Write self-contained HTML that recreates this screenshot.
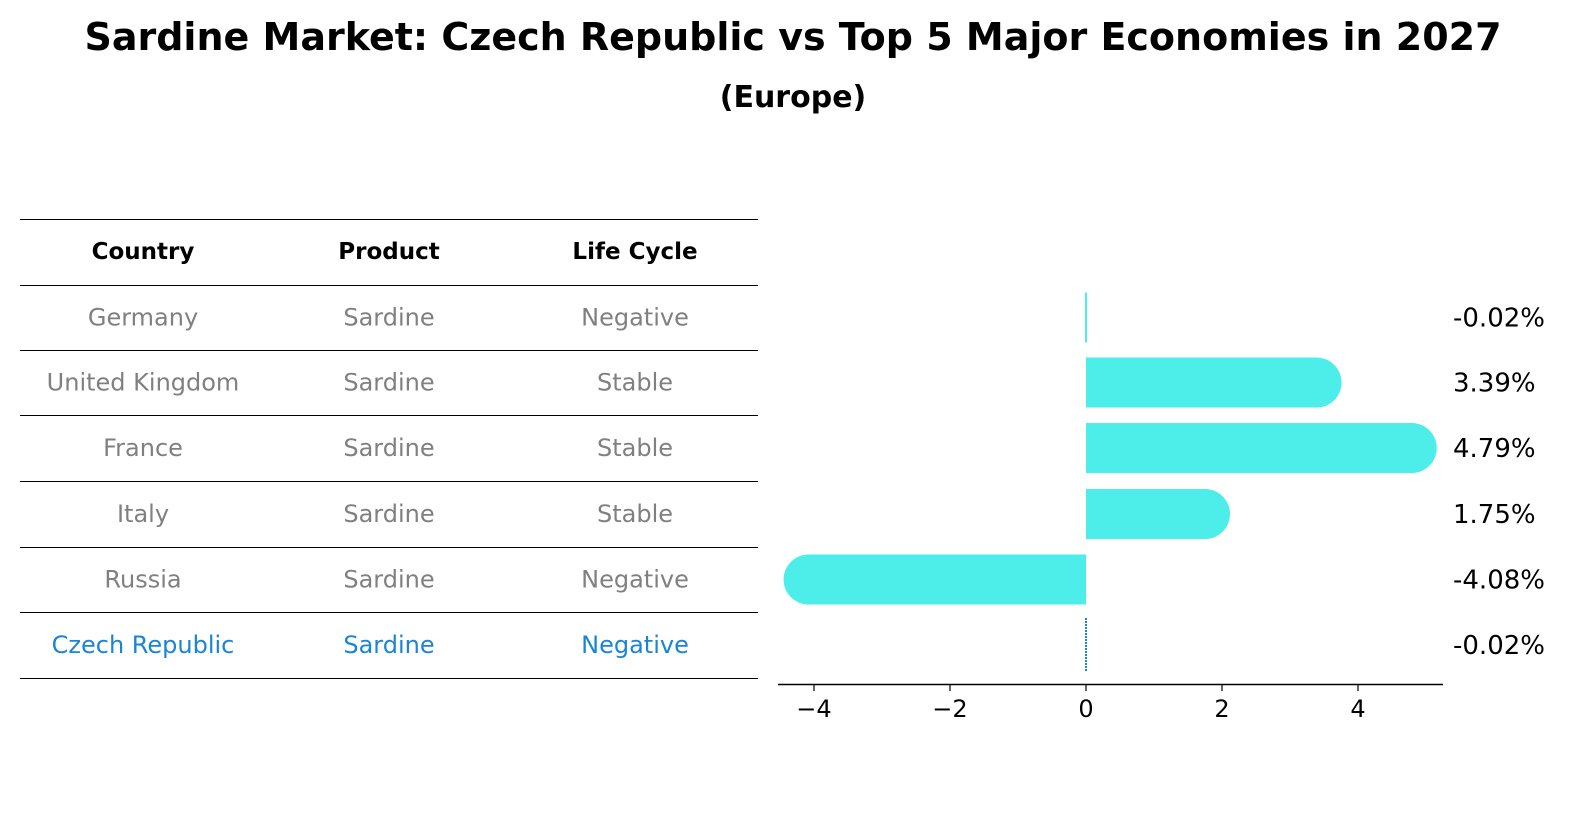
<!DOCTYPE html>
<html><head><meta charset="utf-8"><style>
body{margin:0;background:#fff;width:1596px;height:823px;overflow:hidden;font-family:"Liberation Sans","DejaVu Sans",sans-serif}
</style></head><body>
<svg width="1596" height="823" xmlns="http://www.w3.org/2000/svg" font-family="DejaVu Sans, Liberation Sans, sans-serif">
<text x="793" y="50" text-anchor="middle" font-size="38" font-weight="bold">Sardine Market: Czech Republic vs Top 5 Major Economies in 2027</text>
<text x="793" y="107" text-anchor="middle" font-size="30" font-weight="bold">(Europe)</text>
<g id="table"></g>
<g id="chart"></g>
</svg>
<script>
const countries=["Germany","United Kingdom","France","Italy","Russia","Czech Republic"];
const products=["Sardine","Sardine","Sardine","Sardine","Sardine","Sardine"];
const lifeCycles=["Negative","Stable","Stable","Stable","Negative","Negative"];
const values=[-0.02,3.39,4.79,1.75,-4.08,-0.02];
const labels=["-0.02%","3.39%","4.79%","1.75%","-4.08%","-0.02%"];
const ticks=[-4,-2,0,2,4];
const NS="http://www.w3.org/2000/svg";
function mk(p,tag,a,txt){const e=document.createElementNS(NS,tag);for(const k in a)e.setAttribute(k,a[k]);if(txt!==undefined)e.textContent=txt;p.appendChild(e);return e;}
const tb=document.getElementById('table');
const lineY=[219,285,350,415,481,547,612,678];
lineY.forEach(y=>{const l=mk(tb,'line',{x1:20,x2:758,y1:y+0.5,y2:y+0.5,stroke:'#000','stroke-width':1,'shape-rendering':'crispEdges'});

});
const colX=[143,389,635];
["Country","Product","Life Cycle"].forEach((h,i)=>{const t=mk(tb,'text',{x:colX[i],y:259,'text-anchor':'middle','font-size':23,'font-weight':'bold'},h);

});
countries.forEach((c,r)=>{const y=(lineY[r+1]+lineY[r+2])/2+8;const col=r===5?'#1a85d6':'#808080';
[c,products[r],lifeCycles[r]].forEach((v,i)=>{const t=mk(tb,'text',{x:colX[i],y:y,'text-anchor':'middle','font-size':24,fill:col},v);

});});
const ch=document.getElementById('chart');
const x0=1086,ppu=68;const xs=v=>x0+v*ppu;
const rowY=r=>(lineY[r+1]+lineY[r+2])/2;
const h=50,rad=25;
values.forEach((v,r)=>{const cy=rowY(r);
if(r===5){const l=mk(ch,'line',{x1:x0,x2:x0,y1:cy-27,y2:cy+27,stroke:'#1a85d6','stroke-width':2,'stroke-dasharray':'2,1'});

}
else{const g=mk(ch,'g',{fill:'#4deeea'});


const xe=xs(v);const w=Math.abs(xe-x0);
if(w<3){mk(g,'rect',{x:x0-1,y:cy-h/2,width:2,height:h});}
else{mk(g,'rect',{x:Math.min(x0,xe),y:cy-h/2,width:w,height:h});
mk(g,'circle',{cx:xe,cy:cy,r:rad});}}
const t=mk(ch,'text',{x:1453,y:cy+9,'font-size':26},labels[r]);

});
const ax=mk(ch,'line',{x1:778,x2:1443,y1:684.5,y2:684.5,stroke:'#000','stroke-width':1.5});


ticks.forEach(tv=>{const x=xs(tv);mk(ch,'line',{x1:x,x2:x,y1:684,y2:691,stroke:'#000','stroke-width':1.2});
const t=mk(ch,'text',{x:x,y:717,'text-anchor':'middle','font-size':24},tv<0?'\u2212'+Math.abs(tv):String(tv));

});
</script>
</body></html>
